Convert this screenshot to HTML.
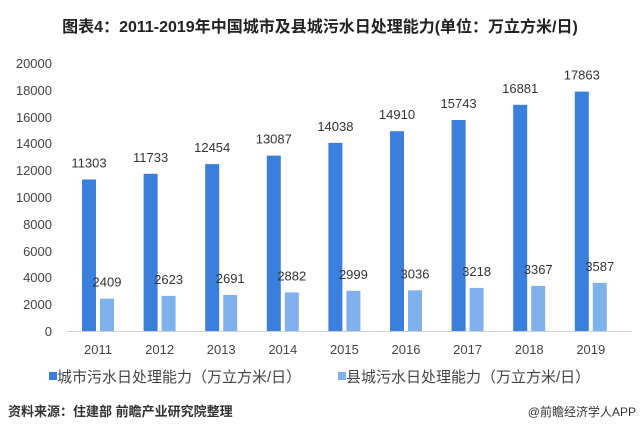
<!DOCTYPE html>
<html><head><meta charset="utf-8"><style>
body{margin:0;background:#fff;}
svg{display:block;font-family:"Liberation Sans","Noto Sans CJK SC",sans-serif;}
</style></head><body>
<svg width="640" height="434" viewBox="0 0 640 434" xmlns="http://www.w3.org/2000/svg">
<rect width="640" height="434" fill="#fff"/>
<text x="320" y="32" text-anchor="middle" font-size="16" font-weight="bold" fill="#222">图表4：2011-2019年中国城市及县城污水日处理能力(单位：万立方米/日)</text>
<g font-size="13" fill="#444" text-anchor="end">
<text x="52" y="336">0</text>
<text x="52" y="309">2000</text>
<text x="52" y="282">4000</text>
<text x="52" y="256">6000</text>
<text x="52" y="229">8000</text>
<text x="52" y="202">10000</text>
<text x="52" y="175">12000</text>
<text x="52" y="148">14000</text>
<text x="52" y="122">16000</text>
<text x="52" y="95">18000</text>
<text x="52" y="68">20000</text>
</g>
<line x1="66" y1="331.5" x2="632" y2="331.5" stroke="#d0d0d0" stroke-width="1"/>
<g fill="#3a7fdc">
<rect x="82" y="179.5" width="14" height="151.5"/>
<rect x="143.6" y="173.8" width="14" height="157.2"/>
<rect x="205.2" y="164.1" width="14" height="166.9"/>
<rect x="266.8" y="155.6" width="14" height="175.4"/>
<rect x="328.4" y="142.9" width="14" height="188.1"/>
<rect x="390" y="131.2" width="14" height="199.8"/>
<rect x="451.6" y="120" width="14" height="211"/>
<rect x="513.2" y="104.8" width="14" height="226.2"/>
<rect x="574.8" y="91.6" width="14" height="239.4"/>
</g>
<g fill="#80b1ec">
<rect x="100" y="298.7" width="14" height="32.3"/>
<rect x="161.6" y="295.9" width="14" height="35.1"/>
<rect x="223.2" y="294.9" width="14" height="36.1"/>
<rect x="284.8" y="292.4" width="14" height="38.6"/>
<rect x="346.4" y="290.8" width="14" height="40.2"/>
<rect x="408" y="290.3" width="14" height="40.7"/>
<rect x="469.6" y="287.9" width="14" height="43.1"/>
<rect x="531.2" y="285.9" width="14" height="45.1"/>
<rect x="592.8" y="282.9" width="14" height="48.1"/>
</g>
<g font-size="13" fill="#333" text-anchor="middle">
<text x="89" y="167.5">11303</text>
<text x="150.6" y="161.8">11733</text>
<text x="212.2" y="152.1">12454</text>
<text x="273.8" y="143.6">13087</text>
<text x="335.4" y="130.9">14038</text>
<text x="397" y="119.2">14910</text>
<text x="458.6" y="108">15743</text>
<text x="520.2" y="92.8">16881</text>
<text x="581.8" y="79.6">17863</text>
<text x="107" y="286.7">2409</text>
<text x="168.6" y="283.9">2623</text>
<text x="230.2" y="282.9">2691</text>
<text x="291.8" y="280.4">2882</text>
<text x="353.4" y="278.8">2999</text>
<text x="415" y="278.3">3036</text>
<text x="476.6" y="275.9">3218</text>
<text x="538.2" y="273.9">3367</text>
<text x="599.8" y="270.9">3587</text>
</g>
<g font-size="13" fill="#444" text-anchor="middle">
<text x="98" y="354">2011</text>
<text x="159.6" y="354">2012</text>
<text x="221.2" y="354">2013</text>
<text x="282.8" y="354">2014</text>
<text x="344.4" y="354">2015</text>
<text x="406" y="354">2016</text>
<text x="467.6" y="354">2017</text>
<text x="529.2" y="354">2018</text>
<text x="590.8" y="354">2019</text>
</g>
<rect x="49" y="372" width="8" height="8" fill="#3a7fdc"/>
<text x="57" y="382" font-size="15" fill="#444">城市污水日处理能力（万立方米/日）</text>
<rect x="338" y="372" width="8" height="8" fill="#80b1ec"/>
<text x="346" y="382" font-size="15" fill="#444">县城污水日处理能力（万立方米/日）</text>
<text x="8" y="416" font-size="13" font-weight="bold" fill="#333">资料来源：住建部 前瞻产业研究院整理</text>
<text x="636" y="416" text-anchor="end" font-size="12" fill="#333">@前瞻经济学人APP</text>
</svg>
</body></html>
